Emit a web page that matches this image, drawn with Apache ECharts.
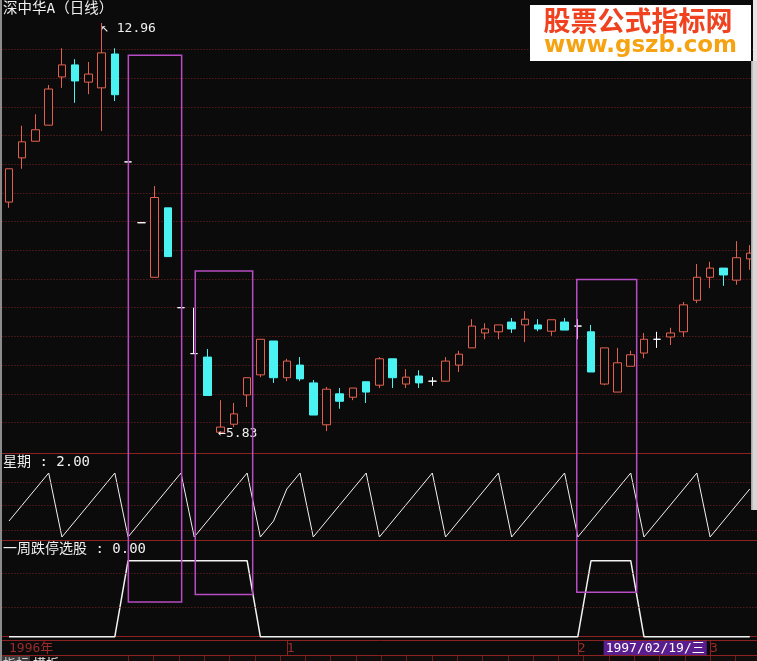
<!DOCTYPE html>
<html>
<head>
<meta charset="utf-8">
<title>深中华A 日线</title>
<script src="https://cdn.jsdelivr.net/npm/echarts@6.0.0/dist/echarts.min.js"></script>
<style>
html,body{margin:0;padding:0;background:#0b0b0b;overflow:hidden;}
#chart{width:757px;height:661px;}
</style>
</head>
<body>
<div id="chart"></div>
<script>
// Trading days, Dec 1996 – Mar 1997
const tradeDates = [
  '1996-12-03','1996-12-04','1996-12-05','1996-12-06',
  '1996-12-09','1996-12-10','1996-12-11','1996-12-12','1996-12-13',
  '1996-12-16','1996-12-17','1996-12-18','1996-12-19','1996-12-20',
  '1996-12-23','1996-12-24','1996-12-25','1996-12-26','1996-12-27',
  '1996-12-30','1996-12-31',
  '1997-01-02','1997-01-03',
  '1997-01-06','1997-01-07','1997-01-08','1997-01-09','1997-01-10',
  '1997-01-13','1997-01-14','1997-01-15','1997-01-16','1997-01-17',
  '1997-01-20','1997-01-21','1997-01-22','1997-01-23','1997-01-24',
  '1997-01-27','1997-01-28','1997-01-29','1997-01-30','1997-01-31',
  '1997-02-03','1997-02-04','1997-02-05','1997-02-06','1997-02-07',
  '1997-02-24','1997-02-25','1997-02-26','1997-02-27','1997-02-28',
  '1997-03-03','1997-03-04','1997-03-05','1997-03-06'
];
const openPrice = [
  9.84,10.61,10.90,11.18,12.02,12.23,11.93,11.83,12.42,10.54,
  9.48,8.53,9.74,8.00,7.20,7.14,5.83,5.97,6.48,6.83,
  7.42,6.78,7.00,6.69,5.96,6.50,6.44,6.71,6.65,7.11,
  6.67,6.81,6.72,6.72,7.00,7.30,7.56,7.58,7.75,7.70,
  7.70,7.59,7.75,7.68,7.58,6.67,6.53,6.98,7.21,7.45,
  7.49,7.58,8.13,8.53,8.69,8.48,8.85
];
const closePrice = [
  10.42,10.89,11.10,11.81,12.23,11.95,12.07,12.44,11.71,10.54,
  9.48,9.92,8.89,8.00,7.20,6.47,5.92,6.15,6.78,7.45,
  6.78,7.07,6.76,6.13,6.58,6.37,6.60,6.53,7.11,6.78,
  6.79,6.69,6.72,7.07,7.19,7.68,7.63,7.70,7.63,7.80,
  7.63,7.79,7.61,7.68,6.88,7.30,7.04,7.18,7.45,7.45,
  7.56,8.05,8.53,8.69,8.57,8.87,8.95
];
const lowPrice = [
  9.74,10.42,10.90,11.18,11.83,11.57,11.72,11.08,11.60,10.54,
  9.48,8.53,8.89,8.00,7.20,6.47,5.83,5.92,6.27,6.79,
  6.69,6.72,6.72,6.13,5.85,6.24,6.39,6.34,6.60,6.60,
  6.60,6.60,6.64,6.72,6.88,7.30,7.45,7.45,7.56,7.40,
  7.59,7.51,7.61,7.45,6.88,6.65,6.53,6.98,7.12,7.30,
  7.35,7.49,8.08,8.34,8.38,8.40,8.66
];
const highPrice = [
  10.42,11.17,11.37,11.88,12.52,12.33,12.28,12.96,12.52,10.54,
  9.48,10.12,9.74,8.00,8.00,7.28,6.39,6.34,6.78,7.45,
  7.42,7.11,7.14,6.74,6.62,6.60,6.60,6.71,7.14,7.11,
  6.93,6.91,6.79,7.14,7.25,7.80,7.73,7.70,7.82,7.94,
  7.80,7.79,7.82,7.80,7.70,7.30,7.30,7.25,7.56,7.58,
  7.65,8.10,8.76,8.80,8.69,9.16,9.09
];
// 星期 indicator (1 = Monday … 5 = Friday)
const weekday = [
  2,3,4,5,1,2,3,4,5,1,2,3,4,5,1,2,3,4,5,1,
  2,4,5,1,2,3,4,5,1,2,3,4,5,1,2,3,4,5,1,2,
  3,4,5,1,2,3,4,5,1,2,3,4,5,1,2,3,4
];
// 一周跌停选股 signal
const limitDownSignal = [
  0,0,0,0,0,0,0,0,0,1,1,1,1,1,1,1,1,1,1,0,
  0,0,0,0,0,0,0,0,0,0,0,0,0,0,0,0,0,0,0,0,
  0,0,0,0,1,1,1,1,0,0,0,0,0,0,0,0,0
];
const cursorIndex = 49;
const cursorLabel = '1997/02/19/三';
// highlighted stretches: bar span (fractional), top price, bottom level on the signal pane
const boxFrom = [9.02, 14.08, 42.92];
const boxTo = [13.05, 18.42, 47.45];
const boxTopPrice = [12.40, 8.64, 8.49];
const boxBottomSignal = [0.457, 0.555, 0.584];
// guide levels in the two lower panes
const weekGuides = [4.44, 3.0, 1.44];
const signalGuides = [0.84, 0.39];
// tab captions in the bottom strip
const tabNames = ['指标', '模板'];

const BG = '#0b0b0b';
const UP = '#e4604e';
const DOWN = '#4af2f2';
const GRID = '#7e2424';
const SEP = '#8c2222';
const AXIS_TEXT = '#9a2c2c';
const BOX = '#b84cc4';
const TEXT = '#f0f0f0';
const MONO = '"DejaVu Sans Mono", "Noto Sans CJK SC", monospace';

const chart = echarts.init(document.getElementById('chart'), null, { renderer: 'canvas' });

const candleData = tradeDates.map((d, i) => [openPrice[i], closePrice[i], lowPrice[i], highPrice[i]]);

function isMonthStart(index) {
  if (index === 0) return true;
  return tradeDates[index].slice(0, 7) !== tradeDates[index - 1].slice(0, 7);
}

const gridBase = { left: 2.4, right: 0.6, outerBoundsMode: 'none', containLabel: false };
const hiddenCat = (gi, extra) => Object.assign({
  type: 'category', gridIndex: gi, data: tradeDates, boundaryGap: true,
  axisLabel: { show: false }, axisTick: { show: false }, splitLine: { show: false },
  axisLine: { show: true, lineStyle: { color: SEP, width: 1 } }
}, extra);

const option = {
  backgroundColor: BG,
  animation: false,
  grid: [
    Object.assign({ top: 20.7, height: 430.5 }, gridBase),
    Object.assign({ top: 453, height: 87 }, gridBase),
    Object.assign({ top: 540, height: 100 }, gridBase)
  ],
  xAxis: [
    hiddenCat(0, { show: false }),
    hiddenCat(1, { position: 'top' }),
    hiddenCat(2, { position: 'top' }),
    hiddenCat(2, {
      position: 'bottom',
      axisTick: {
        show: true, alignWithLabel: true, length: 15,
        interval: (i) => i > 0 && isMonthStart(i),
        lineStyle: { color: SEP }
      },
      axisLabel: {
        show: true, interval: (i) => isMonthStart(i),
        formatter: (v, i) => i === 0 ? v.slice(0, 4) + '年' : String(parseInt(v.slice(5, 7), 10)),
        color: AXIS_TEXT, fontSize: 13, fontFamily: MONO, align: 'left', margin: 2
      }
    })
  ],
  yAxis: [
    {
      type: 'value', gridIndex: 0, min: 5.5, max: 13, interval: 0.5,
      axisLine: { show: false }, axisTick: { show: false }, axisLabel: { show: false },
      splitLine: { show: true, showMinLine: false, showMaxLine: false, lineStyle: { color: GRID, type: [1, 2], width: 1 } }
    },
    { type: 'value', gridIndex: 1, min: 0.8125, max: 6.25, show: false, splitLine: { show: false } },
    { type: 'value', gridIndex: 2, min: -0.0434, max: 1.2724, show: false, splitLine: { show: false } }
  ],
  series: [
    {
      type: 'candlestick', xAxisIndex: 0, yAxisIndex: 0, data: candleData,
      barWidth: 8, silent: true,
      itemStyle: {
        color: BG, color0: DOWN, borderColor: UP, borderColor0: DOWN,
        borderColorDoji: '#ffffff', borderWidth: 1
      },
      markPoint: {
        symbol: 'rect', symbolSize: 1, silent: true,
        itemStyle: { color: 'rgba(0,0,0,0)' },
        label: { show: true, color: TEXT, fontFamily: MONO, fontSize: 13, align: 'left' },
        data: [
          { type: 'max', valueDim: 'highest',
            label: { position: [0, 0], verticalAlign: 'top', formatter: (p) => '↖ ' + p.value.toFixed(2) } },
          { type: 'min', valueDim: 'lowest',
            label: { position: [-2, 1.5], verticalAlign: 'middle', formatter: (p) => '←' + p.value.toFixed(2) } }
        ]
      }
    },
    {
      type: 'line', xAxisIndex: 1, yAxisIndex: 1, data: weekday, symbol: 'none', silent: true,
      lineStyle: { color: '#f2f2f2', width: 1 },
      markLine: {
        silent: true, symbol: 'none', label: { show: false },
        lineStyle: { color: GRID, type: [1, 2], width: 1 },
        data: weekGuides.map((v) => ({ yAxis: v }))
      }
    },
    {
      type: 'line', xAxisIndex: 2, yAxisIndex: 2, data: limitDownSignal, symbol: 'none', silent: true,
      lineStyle: { color: '#f2f2f2', width: 1.5 },
      markLine: {
        silent: true, symbol: 'none', label: { show: false },
        lineStyle: { color: GRID, type: [1, 2], width: 1 },
        data: signalGuides.map((v) => ({ yAxis: v }))
      }
    }
  ]
};

chart.setOption(option);

// pixel helpers bound to the chart's own axes
const x0 = chart.convertToPixel({ xAxisIndex: 0 }, 0);
const x1 = chart.convertToPixel({ xAxisIndex: 0 }, 1);
const barX = (k) => x0 + k * (x1 - x0);
const priceY = (p) => chart.convertToPixel({ yAxisIndex: 0 }, p);
const signalY = (v) => chart.convertToPixel({ yAxisIndex: 2 }, v);

const graphics = [];

// window frame pieces
graphics.push({ type: 'rect', shape: { x: 0, y: 0, width: 2, height: 661 }, style: { fill: '#8c8c8c' }, z: 100 });
graphics.push({ type: 'rect', shape: { x: 751, y: 61, width: 6, height: 449 }, style: { fill: '#d6d6d6' }, z: 100 });
graphics.push({ type: 'rect', shape: { x: 751, y: 61, width: 1.5, height: 449 }, style: { fill: '#a8a8a8' }, z: 101 });
graphics.push({ type: 'rect', shape: { x: 753, y: 0, width: 4, height: 61 }, style: { fill: '#e6e6e6' }, z: 100 });

// pane separators across the full width
[453.5, 540.5].forEach((y) => {
  graphics.push({ type: 'line', shape: { x1: 0, y1: y, x2: 757, y2: y }, style: { stroke: SEP, lineWidth: 1 }, z: 50 });
});

// bottom separator and tab strip
graphics.push({ type: 'rect', shape: { x: 0, y: 656, width: 757, height: 5 }, style: { fill: '#120d0d' }, z: 40 });
graphics.push({ type: 'line', shape: { x1: 0, y1: 655.5, x2: 757, y2: 655.5 }, style: { stroke: SEP, lineWidth: 1 }, z: 50 });
for (let x = 128; x < 757; x += 25.3) {
  graphics.push({ type: 'line', shape: { x1: Math.round(x) + 0.5, y1: 656, x2: Math.round(x) + 0.5, y2: 661 },
    style: { stroke: '#6e1c1c', lineWidth: 1 }, z: 51 });
}
graphics.push({ type: 'rect', shape: { x: 2, y: 656, width: 28, height: 5 }, style: { fill: '#3c3c3c' }, z: 52 });
tabNames.forEach((name, i) => {
  graphics.push({ type: 'text', x: 3 + i * 30, y: 657, z: 53,
    style: { text: name, font: '13px "Noto Sans CJK SC"', fill: i === 0 ? '#cfcfcf' : '#e8e8e8', verticalAlign: 'top' } });
});

// pane titles
graphics.push({ type: 'text', x: 3, y: 2, z: 60,
  style: { text: '深中华A（日线）', font: '14.5px ' + MONO, fill: TEXT, verticalAlign: 'top' } });
graphics.push({ type: 'text', x: 3, y: 455, z: 60,
  style: { text: '星期 : ' + weekday[cursorIndex].toFixed(2), font: '14px ' + MONO, fill: TEXT, verticalAlign: 'top' } });
graphics.push({ type: 'text', x: 3, y: 542, z: 60,
  style: { text: '一周跌停选股 : ' + limitDownSignal[cursorIndex].toFixed(2), font: '14px ' + MONO, fill: TEXT, verticalAlign: 'top' } });

// cursor date tag on the time axis
graphics.push({ type: 'text', x: barX(cursorIndex) - 2, y: 641, z: 60,
  style: {
    text: cursorLabel, font: '13px ' + MONO, fill: '#ffffff', align: 'center', verticalAlign: 'top',
    backgroundColor: '#5a1d8e', padding: [1, 2, 0, 2]
  } });

// highlighted stretches
for (let i = 0; i < boxFrom.length; i++) {
  const left = barX(boxFrom[i]);
  const right = barX(boxTo[i]);
  const top = priceY(boxTopPrice[i]);
  const bottom = signalY(boxBottomSignal[i]);
  graphics.push({ type: 'rect', z: 80,
    shape: { x: left, y: top, width: right - left, height: bottom - top },
    style: { fill: 'none', stroke: BOX, lineWidth: 1.5 } });
}

// site watermark
graphics.push({ type: 'rect', shape: { x: 530, y: 5, width: 221, height: 56 }, style: { fill: '#ffffff' }, z: 90 });
graphics.push({ type: 'text', x: 638, y: 20.5, z: 91,
  style: { text: '股票公式指标网', font: 'bold 27px "Noto Sans CJK SC"', fill: '#f0421e', align: 'center', verticalAlign: 'middle' } });
graphics.push({ type: 'text', x: 640.5, y: 46, z: 91,
  style: { text: 'www.gszb.com', font: 'bold 23px "DejaVu Sans"', fill: '#f6a312', align: 'center', verticalAlign: 'middle' } });

chart.setOption({ graphic: graphics });
</script>
</body>
</html>
